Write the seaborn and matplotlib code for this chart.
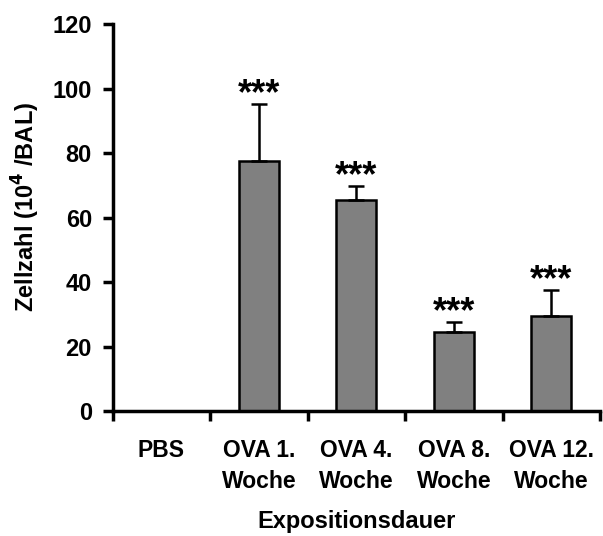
import matplotlib
matplotlib.use("Agg")
import matplotlib.pyplot as plt
import seaborn as sns
import pandas as pd
import numpy as np

categories = ["PBS", "OVA 1.\nWoche", "OVA 4.\nWoche", "OVA 8.\nWoche", "OVA 12.\nWoche"]
means = [0.0, 77.5, 65.4, 24.6, 29.5]
errors = [0.0, 17.8, 4.4, 3.1, 8.0]
signif = ["", "***", "***", "***", "***"]
yticks = [0, 20, 40, 60, 80, 100, 120]

sns.set_theme(style="white")
plt.rcParams['font.family'] = ['Liberation Sans', 'DejaVu Sans']
plt.rcParams['font.weight'] = 'bold'
for k in ["text.color", "axes.labelcolor", "xtick.color", "ytick.color"]:
    plt.rcParams[k] = "black"

df = pd.DataFrame({"cat": categories, "val": means})

fig = plt.figure(figsize=(6.03, 5.36), dpi=100)
ax = fig.add_axes([0.187, 0.233, 0.808, 0.722])

sns.barplot(data=df, x="cat", y="val", color="#808080", width=0.41,
            edgecolor="black", linewidth=1.8, saturation=1, errorbar=None, ax=ax)

x = np.arange(len(categories))
ax.errorbar(x, means, yerr=[np.zeros(len(means)), errors], fmt="none",
            ecolor="black", elinewidth=1.8, capsize=6, capthick=1.8)

for xi, m, e, s in zip(x, means, errors, signif):
    if s:
        ax.text(xi, m + e - 2.6, s, ha="center", va="bottom", fontsize=26,
                fontweight="bold", color="black")

fs = 17
ax.set_ylim(0, 120)
ax.set_xlim(-0.5, 4.5)
ax.set_yticks(yticks)
ax.set_yticklabels([str(t) for t in yticks], fontsize=fs, fontweight="bold")
ax.set_xticks(x)
ax.set_xticklabels(categories, fontsize=16.5, fontweight="bold", linespacing=1.45)
ax.set_xticks(np.arange(-0.5, 4.6, 1.0), minor=True)
ax.tick_params(axis="x", which="major", length=0, pad=20, bottom=True)
ax.tick_params(axis="x", which="minor", length=7, width=2.5, direction="out",
               color="black", bottom=True)
ax.tick_params(axis="y", which="major", length=7, width=2.5, direction="out",
               color="black", pad=8, left=True)

ax.set_xlabel("Expositionsdauer", fontsize=fs, fontweight="bold", labelpad=12)
ax.set_ylabel("Zellzahl (10$^{4}$ /BAL)", fontsize=17, fontweight="bold")
ax.yaxis.set_label_coords(-0.145, 0.527)

for sp in ["top", "right"]:
    ax.spines[sp].set_visible(False)
for sp in ["left", "bottom"]:
    ax.spines[sp].set_linewidth(2.5)
    ax.spines[sp].set_color("black")

fig.savefig("out.png", dpi=100)
